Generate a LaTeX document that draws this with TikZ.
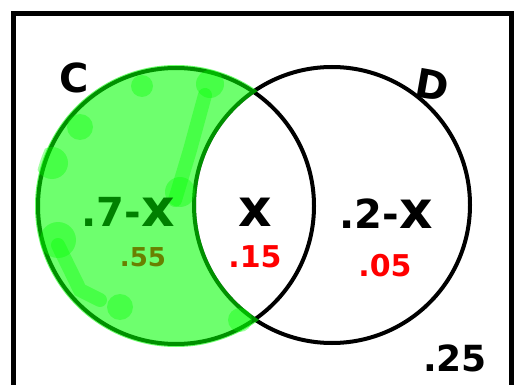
\documentclass[tikz,border=0pt]{standalone}
\usepackage{fontspec}
\setmainfont{DejaVu Sans}
\definecolor{dgreen}{RGB}{0,128,0}
\definecolor{olivegr}{RGB}{105,128,0}
\definecolor{vred}{RGB}{255,0,0}
\definecolor{hl}{RGB}{0,255,0}
\tikzset{
  ring/.style={draw=black, line width=4pt},
  frame/.style={draw=black, line width=4.2pt},
  big/.style={font=\fontsize{40}{40}\selectfont\bfseries, inner sep=0pt},
  val/.style={font=\fontsize{30}{30}\selectfont\bfseries, inner sep=0pt},
  blob/.style={fill=hl, opacity=0.35},
}
\newcommand{\bigx}{{\fontsize{52}{52}\selectfont x}}
\begin{document}
\begin{tikzpicture}[x=1pt,y=-1pt]
\useasboundingbox (0,0) rectangle (514,385);
\fill[white] (0,0) rectangle (514,385);
% frame
\draw[frame] (13.5,385) -- (13.5,13.5) -- (511.5,13.5) -- (511.5,385);
% circles
\coordinate (cC) at (176,206);
\coordinate (cD) at (332,205);
\draw[ring] (cC) circle[radius=138];
\draw[ring] (cD) circle[radius=138];
% highlight crescent C minus D
\begin{scope}
  \clip (cC) circle[radius=141];
  \fill[hl, opacity=0.57, even odd rule] (cC) circle[radius=150] (cD) circle[radius=136];
\end{scope}
\begin{scope}
  \clip (cC) circle[radius=143];
  \begin{scope}[even odd rule]
  \clip (cC) circle[radius=160] (cD) circle[radius=134];
  \fill[blob] (80,127) circle[radius=13];
  \fill[blob] (52,163) circle[radius=16];
  \fill[blob] (58,240) circle[radius=18];
  \fill[blob] (120,307) circle[radius=13];
  \fill[blob] (210,84) circle[radius=14];
  \fill[blob] (180,192) circle[radius=15];
  \fill[blob] (142,86) circle[radius=11];
  \fill[blob] (240,320) circle[radius=12];
  \draw[hl, opacity=0.35, line width=14pt, line cap=round] (58,245) -- (80,290) -- (100,300);
  \draw[hl, opacity=0.35, line width=14pt, line cap=round] (205,95) -- (190,150) -- (175,200);
  \end{scope}
\end{scope}
% labels
\node[big] (lC) at (74,78) {C};
\node[big, rotate=-10] (lD) at (432,85) {D};
\node[big, text=dgreen] (l7) at (128,212) {.7-\bigx};
\node[val, text=olivegr, font=\fontsize{26}{26}\selectfont\bfseries] (v55) at (143,257) {.55};
\node[big] (lx) at (255,212) {\bigx};
\node[val, text=vred] (v15) at (255,257) {.15};
\node[big] (l2) at (386,214) {.2-\bigx};
\node[val, text=vred] (v05) at (385,266) {.05};
\node[big, font=\fontsize{36}{36}\selectfont\bfseries] (v25) at (455,358) {.25};
\end{tikzpicture}
\end{document}
